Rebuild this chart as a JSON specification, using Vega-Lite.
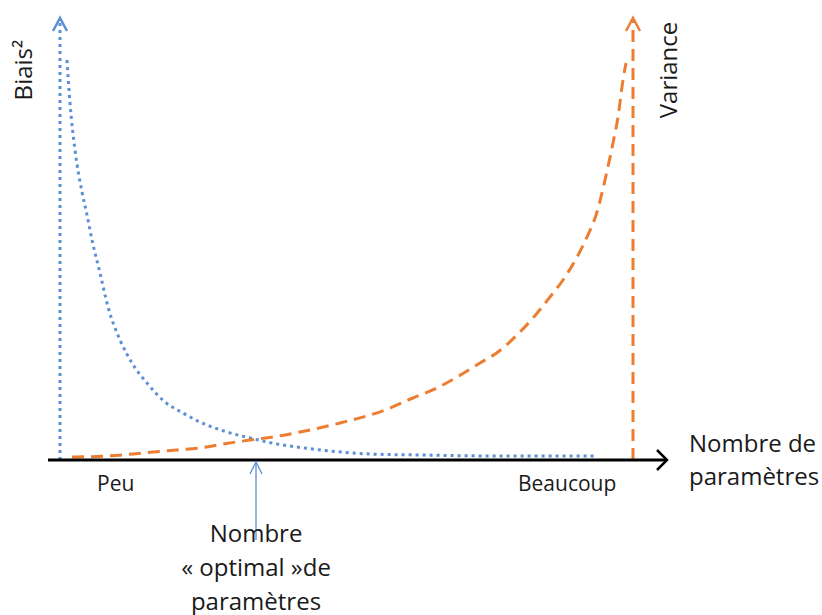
{
  "$schema": "https://vega.github.io/schema/vega-lite/v6.json",
  "width": 822,
  "height": 615,
  "padding": 0,
  "autosize": {"type": "fit", "contains": "padding"},
  "background": "white",
  "config": {"view": {"stroke": null}},
  "datasets": {
    "curves": [
      {"serie": "Biais²", "x": 67, "y": 400}, {"serie": "Biais²", "x": 70, "y": 357}, {"serie": "Biais²", "x": 75, "y": 310},
      {"serie": "Biais²", "x": 82, "y": 268}, {"serie": "Biais²", "x": 87, "y": 245}, {"serie": "Biais²", "x": 92, "y": 220},
      {"serie": "Biais²", "x": 100, "y": 187}, {"serie": "Biais²", "x": 108, "y": 153}, {"serie": "Biais²", "x": 120, "y": 120},
      {"serie": "Biais²", "x": 132, "y": 97}, {"serie": "Biais²", "x": 147, "y": 77}, {"serie": "Biais²", "x": 165, "y": 58},
      {"serie": "Biais²", "x": 183, "y": 47}, {"serie": "Biais²", "x": 200, "y": 38}, {"serie": "Biais²", "x": 227, "y": 28},
      {"serie": "Biais²", "x": 250, "y": 22}, {"serie": "Biais²", "x": 277, "y": 16}, {"serie": "Biais²", "x": 297, "y": 13},
      {"serie": "Biais²", "x": 330, "y": 9}, {"serie": "Biais²", "x": 370, "y": 6}, {"serie": "Biais²", "x": 420, "y": 5},
      {"serie": "Biais²", "x": 500, "y": 4}, {"serie": "Biais²", "x": 595, "y": 4},
      {"serie": "Variance", "x": 72, "y": 3}, {"serie": "Variance", "x": 107, "y": 4}, {"serie": "Variance", "x": 133, "y": 6},
      {"serie": "Variance", "x": 153, "y": 8}, {"serie": "Variance", "x": 177, "y": 10}, {"serie": "Variance", "x": 200, "y": 12},
      {"serie": "Variance", "x": 223, "y": 16}, {"serie": "Variance", "x": 250, "y": 20}, {"serie": "Variance", "x": 273, "y": 23},
      {"serie": "Variance", "x": 300, "y": 28}, {"serie": "Variance", "x": 340, "y": 37}, {"serie": "Variance", "x": 385, "y": 50},
      {"serie": "Variance", "x": 413, "y": 62}, {"serie": "Variance", "x": 437, "y": 72}, {"serie": "Variance", "x": 457, "y": 83},
      {"serie": "Variance", "x": 480, "y": 97}, {"serie": "Variance", "x": 498, "y": 108}, {"serie": "Variance", "x": 517, "y": 125},
      {"serie": "Variance", "x": 533, "y": 142}, {"serie": "Variance", "x": 550, "y": 163}, {"serie": "Variance", "x": 563, "y": 180},
      {"serie": "Variance", "x": 577, "y": 203}, {"serie": "Variance", "x": 587, "y": 223}, {"serie": "Variance", "x": 597, "y": 248},
      {"serie": "Variance", "x": 605, "y": 280}, {"serie": "Variance", "x": 613, "y": 317}, {"serie": "Variance", "x": 618, "y": 343},
      {"serie": "Variance", "x": 623, "y": 380}, {"serie": "Variance", "x": 626, "y": 397}
    ],
    "guides": [
      {"part": "biasAxis", "k": 0, "x": 60, "y": 0}, {"part": "biasAxis", "k": 1, "x": 60, "y": 440},
      {"part": "biasHead", "k": 0, "x": 53, "y": 429}, {"part": "biasHead", "k": 1, "x": 60, "y": 442}, {"part": "biasHead", "k": 2, "x": 67, "y": 429},
      {"part": "varAxis", "k": 0, "x": 633, "y": 0}, {"part": "varAxis", "k": 1, "x": 633, "y": 440},
      {"part": "varHead", "k": 0, "x": 626, "y": 429}, {"part": "varHead", "k": 1, "x": 633, "y": 442}, {"part": "varHead", "k": 2, "x": 640, "y": 429},
      {"part": "xAxis", "k": 0, "x": 48, "y": 0}, {"part": "xAxis", "k": 1, "x": 666, "y": 0},
      {"part": "xHead", "k": 0, "x": 657, "y": 10}, {"part": "xHead", "k": 1, "x": 667, "y": 0}, {"part": "xHead", "k": 2, "x": 657, "y": -10},
      {"part": "optShaft", "k": 0, "x": 256, "y": -2}, {"part": "optShaft", "k": 1, "x": 256, "y": -80},
      {"part": "optHead", "k": 0, "x": 250, "y": -14}, {"part": "optHead", "k": 1, "x": 256, "y": -2}, {"part": "optHead", "k": 2, "x": 262, "y": -14}
    ],
    "labels": [
      {"kind": "small", "text": "Peu", "x": 97, "y": -31},
      {"kind": "small", "text": "Beaucoup", "x": 518, "y": -31},
      {"kind": "xtitle", "text": "Nombre de\nparamètres", "x": 689, "y": 8},
      {"kind": "opt", "text": "Nombre\n« optimal »de\nparamètres", "x": 256, "y": -82},
      {"kind": "ytitle", "text": "Biais²", "x": 25, "y": 390},
      {"kind": "ytitle", "text": "Variance", "x": 670, "y": 390}
    ]
  },
  "encoding": {
    "x": {"field": "x", "type": "quantitative", "scale": {"domain": [0, 822], "nice": false, "zero": false}, "axis": null},
    "y": {"field": "y", "type": "quantitative", "scale": {"domain": [-155, 460], "nice": false, "zero": false}, "axis": null}
  },
  "layer": [
    {
      "data": {"name": "guides"},
      "transform": [{"filter": "datum.part === 'biasAxis'"}],
      "mark": {"type": "line", "color": "#5B8FD6", "strokeWidth": 3, "strokeDash": [3, 4], "strokeCap": "butt"},
      "encoding": {"detail": {"field": "part"}, "order": {"field": "k"}}
    },
    {
      "data": {"name": "guides"},
      "transform": [{"filter": "datum.part === 'biasHead'"}],
      "mark": {"type": "line", "color": "#5B8FD6", "strokeWidth": 2.5},
      "encoding": {"detail": {"field": "part"}, "order": {"field": "k"}}
    },
    {
      "data": {"name": "guides"},
      "transform": [{"filter": "datum.part === 'varAxis'"}],
      "mark": {"type": "line", "color": "#ED7D31", "strokeWidth": 3, "strokeDash": [12, 7], "strokeCap": "butt"},
      "encoding": {"detail": {"field": "part"}, "order": {"field": "k"}}
    },
    {
      "data": {"name": "guides"},
      "transform": [{"filter": "datum.part === 'varHead'"}],
      "mark": {"type": "line", "color": "#ED7D31", "strokeWidth": 2.5},
      "encoding": {"detail": {"field": "part"}, "order": {"field": "k"}}
    },
    {
      "data": {"name": "curves"},
      "transform": [{"filter": "datum.serie === 'Biais²'"}],
      "mark": {"type": "line", "color": "#5B8FD6", "strokeWidth": 3, "strokeDash": [3, 4], "strokeCap": "butt", "interpolate": "monotone"},
      "encoding": {"detail": {"field": "serie"}}
    },
    {
      "data": {"name": "curves"},
      "transform": [{"filter": "datum.serie === 'Variance'"}],
      "mark": {"type": "line", "color": "#ED7D31", "strokeWidth": 3, "strokeDash": [12, 7], "strokeCap": "butt", "interpolate": "monotone"},
      "encoding": {"detail": {"field": "serie"}}
    },
    {
      "data": {"name": "guides"},
      "transform": [{"filter": "datum.part === 'xAxis'"}],
      "mark": {"type": "line", "color": "#000000", "strokeWidth": 3},
      "encoding": {"detail": {"field": "part"}, "order": {"field": "k"}}
    },
    {
      "data": {"name": "guides"},
      "transform": [{"filter": "datum.part === 'xHead'"}],
      "mark": {"type": "line", "color": "#000000", "strokeWidth": 2.5},
      "encoding": {"detail": {"field": "part"}, "order": {"field": "k"}}
    },
    {
      "data": {"name": "guides"},
      "transform": [{"filter": "datum.part === 'optShaft' || datum.part === 'optHead'"}],
      "mark": {"type": "line", "color": "#5B8FD6", "strokeWidth": 1.3},
      "encoding": {"detail": {"field": "part"}, "order": {"field": "k"}}
    },
    {
      "data": {"name": "labels"},
      "transform": [{"filter": "datum.kind === 'small'"}],
      "mark": {"type": "text", "align": "left", "baseline": "alphabetic", "font": "Open Sans", "fontSize": 21, "color": "#1a1a1a"},
      "encoding": {"text": {"field": "text"}}
    },
    {
      "data": {"name": "labels"},
      "transform": [{"filter": "datum.kind === 'xtitle'"}],
      "mark": {"type": "text", "align": "left", "baseline": "alphabetic", "font": "Open Sans", "fontSize": 24, "lineHeight": 33, "lineBreak": "\n", "color": "#1a1a1a"},
      "encoding": {"text": {"field": "text"}}
    },
    {
      "data": {"name": "labels"},
      "transform": [{"filter": "datum.kind === 'opt'"}],
      "mark": {"type": "text", "align": "center", "baseline": "alphabetic", "font": "Open Sans", "fontSize": 24, "lineHeight": 34, "lineBreak": "\n", "color": "#1a1a1a"},
      "encoding": {"text": {"field": "text"}}
    },
    {
      "data": {"name": "labels"},
      "transform": [{"filter": "datum.kind === 'ytitle'"}],
      "mark": {"type": "text", "align": "center", "baseline": "middle", "angle": 270, "font": "Open Sans", "fontSize": 24, "color": "#1a1a1a"},
      "encoding": {"text": {"field": "text"}}
    }
  ]
}
